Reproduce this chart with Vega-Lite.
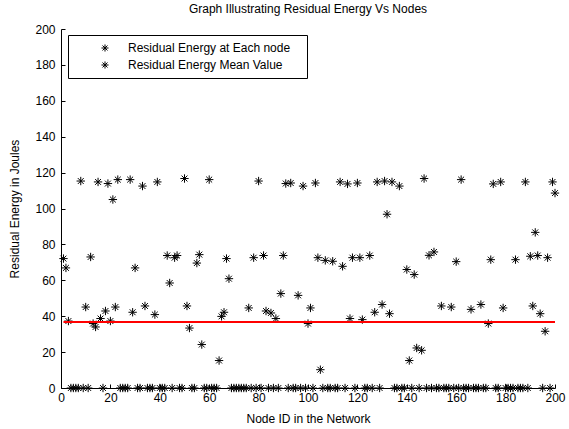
{
  "$schema": "https://vega.github.io/schema/vega-lite/v6.json",
  "autosize": "none",
  "width": 494,
  "height": 359,
  "padding": {"left": 61, "top": 29, "right": 14, "bottom": 41},
  "background": "white",
  "title": {"text": "Graph Illustrating Residual Energy Vs Nodes", "font": "Liberation Sans", "fontSize": 12, "fontWeight": "normal", "color": "black", "offset": 7, "anchor": "middle"},
  "config": {
    "view": {"stroke": null},
    "axis": {"grid": false, "domainColor": "black", "tickColor": "black", "labelColor": "black", "titleColor": "black", "labelFont": "Liberation Sans", "titleFont": "Liberation Sans", "labelFontSize": 12, "titleFontSize": 12, "titleFontWeight": "normal", "tickSize": -4, "labelPadding": 10, "labelOverlap": false, "labelBound": false, "labelFlush": false}
  },
  "datasets": {
    "nodes": [
      {"node":1,"energy":72.1},{"node":2,"energy":66.9},{"node":3,"energy":37.3},{"node":4,"energy":0},{"node":5,"energy":0},{"node":6,"energy":0},{"node":7,"energy":0},{"node":8,"energy":115.3},{"node":9,"energy":0},{"node":10,"energy":45.1},
      {"node":11,"energy":0},{"node":12,"energy":73.0},{"node":13,"energy":35.9},{"node":14,"energy":34.0},{"node":15,"energy":114.8},{"node":16,"energy":38.7},{"node":17,"energy":0},{"node":18,"energy":42.9},{"node":19,"energy":113.9},{"node":20,"energy":37.3},
      {"node":21,"energy":105.0},{"node":22,"energy":45.1},{"node":23,"energy":116.1},{"node":24,"energy":0},{"node":25,"energy":0},{"node":26,"energy":0},{"node":27,"energy":0},{"node":28,"energy":116.1},{"node":29,"energy":42.2},{"node":30,"energy":66.9},
      {"node":31,"energy":0},{"node":32,"energy":0},{"node":33,"energy":112.5},{"node":34,"energy":45.7},{"node":35,"energy":0},{"node":36,"energy":0},{"node":37,"energy":0},{"node":38,"energy":40.9},{"node":39,"energy":114.8},{"node":40,"energy":0},
      {"node":41,"energy":0},{"node":42,"energy":0},{"node":43,"energy":73.8},{"node":44,"energy":58.5},{"node":45,"energy":0},{"node":46,"energy":72.6},{"node":47,"energy":73.8},{"node":48,"energy":0},{"node":49,"energy":0},{"node":50,"energy":116.7},
      {"node":51,"energy":45.7},{"node":52,"energy":33.4},{"node":53,"energy":0},{"node":54,"energy":0},{"node":55,"energy":69.6},{"node":56,"energy":74.3},{"node":57,"energy":24.2},{"node":58,"energy":0},{"node":59,"energy":0},{"node":60,"energy":116.1},
      {"node":61,"energy":0},{"node":62,"energy":0},{"node":63,"energy":0},{"node":64,"energy":15.3},{"node":65,"energy":39.9},{"node":66,"energy":42.2},{"node":67,"energy":72.1},{"node":68,"energy":60.9},{"node":69,"energy":0},{"node":70,"energy":0},
      {"node":71,"energy":0},{"node":72,"energy":0},{"node":73,"energy":0},{"node":74,"energy":0},{"node":75,"energy":0},{"node":76,"energy":44.6},{"node":77,"energy":0},{"node":78,"energy":72.6},{"node":79,"energy":0},{"node":80,"energy":115.3},
      {"node":81,"energy":0},{"node":82,"energy":73.8},{"node":83,"energy":42.9},{"node":84,"energy":0},{"node":85,"energy":41.8},{"node":86,"energy":0},{"node":87,"energy":38.7},{"node":88,"energy":0},{"node":89,"energy":52.6},{"node":90,"energy":73.8},
      {"node":91,"energy":113.9},{"node":92,"energy":0},{"node":93,"energy":114.2},{"node":94,"energy":0},{"node":95,"energy":0},{"node":96,"energy":51.6},{"node":97,"energy":0},{"node":98,"energy":112.5},{"node":99,"energy":0},{"node":100,"energy":35.9},
      {"node":101,"energy":44.6},{"node":102,"energy":0},{"node":103,"energy":114.2},{"node":104,"energy":72.6},{"node":105,"energy":10.2},{"node":106,"energy":0},{"node":107,"energy":71.1},{"node":108,"energy":0},{"node":109,"energy":0},{"node":110,"energy":70.6},
      {"node":111,"energy":0},{"node":112,"energy":0},{"node":113,"energy":114.8},{"node":114,"energy":67.8},{"node":115,"energy":0},{"node":116,"energy":113.7},{"node":117,"energy":38.7},{"node":118,"energy":72.6},{"node":119,"energy":0},{"node":120,"energy":114.2},
      {"node":121,"energy":72.6},{"node":122,"energy":38.1},{"node":123,"energy":0},{"node":124,"energy":0},{"node":125,"energy":73.8},{"node":126,"energy":0},{"node":127,"energy":42.2},{"node":128,"energy":114.8},{"node":129,"energy":0},{"node":130,"energy":46.5},
      {"node":131,"energy":115.3},{"node":132,"energy":96.8},{"node":133,"energy":41.4},{"node":134,"energy":114.8},{"node":135,"energy":0},{"node":136,"energy":0},{"node":137,"energy":112.5},{"node":138,"energy":0},{"node":139,"energy":0},{"node":140,"energy":66.0},
      {"node":141,"energy":15.3},{"node":142,"energy":0},{"node":143,"energy":63.2},{"node":144,"energy":22.3},{"node":145,"energy":0},{"node":146,"energy":21.0},{"node":147,"energy":116.7},{"node":148,"energy":0},{"node":149,"energy":73.9},{"node":150,"energy":0},
      {"node":151,"energy":75.8},{"node":152,"energy":0},{"node":153,"energy":0},{"node":154,"energy":45.7},{"node":155,"energy":0},{"node":156,"energy":0},{"node":157,"energy":0},{"node":158,"energy":45.1},{"node":159,"energy":0},{"node":160,"energy":70.4},
      {"node":161,"energy":0},{"node":162,"energy":116.1},{"node":163,"energy":0},{"node":164,"energy":0},{"node":165,"energy":0},{"node":166,"energy":43.8},{"node":167,"energy":0},{"node":168,"energy":0},{"node":169,"energy":0},{"node":170,"energy":46.5},
      {"node":171,"energy":0},{"node":172,"energy":0},{"node":173,"energy":35.9},{"node":174,"energy":71.5},{"node":175,"energy":113.7},{"node":176,"energy":0},{"node":177,"energy":0},{"node":178,"energy":114.8},{"node":179,"energy":44.6},{"node":180,"energy":0},
      {"node":181,"energy":0},{"node":182,"energy":0},{"node":183,"energy":0},{"node":184,"energy":71.5},{"node":185,"energy":0},{"node":186,"energy":0},{"node":187,"energy":0},{"node":188,"energy":114.8},{"node":189,"energy":0},{"node":190,"energy":73.4},
      {"node":191,"energy":45.7},{"node":192,"energy":86.7},{"node":193,"energy":73.8},{"node":194,"energy":41.4},{"node":195,"energy":0},{"node":196,"energy":31.6},{"node":197,"energy":72.6},{"node":198,"energy":0},{"node":199,"energy":114.8},{"node":200,"energy":108.6}
    ],
    "mean": [{"start": 1, "end": 200, "energy": 36.8}]
  },
  "layer": [
    {
      "data": {"name": "nodes"},
      "mark": {"type": "point", "filled": false, "shape": "M-1,0L1,0M0,-1L0,1M-0.7,-0.7L0.7,0.7M-0.7,0.7L0.7,-0.7", "size": 70, "strokeWidth": 1, "opacity": 1},
      "encoding": {
        "x": {"field": "node", "type": "quantitative", "scale": {"domain": [0, 200], "nice": false}, "axis": {"values": [0,20,40,60,80,100,120,140,160,180,200], "tickCount": 11, "title": "Node ID in the Network", "titlePadding": 10, "labelPadding": 8, "labelOverlap": false}},
        "y": {"field": "energy", "type": "quantitative", "scale": {"domain": [0, 200], "nice": false}, "axis": {"values": [0,20,40,60,80,100,120,140,160,180,200], "tickCount": 11, "title": "Residual Energy in Joules", "titlePadding": 13, "labelOverlap": false}},
        "color": {"datum": "Residual Energy at Each node", "type": "nominal", "scale": {"domain": ["Residual Energy at Each node", "Residual Energy Mean Value"], "range": ["black", "black"]},
          "legend": {"title": null, "orient": "none", "legendX": 7, "legendY": 6, "strokeColor": "black", "fillColor": "white", "padding": 7, "symbolType": "M-1,0L1,0M0,-1L0,1M-0.7,-0.7L0.7,0.7M-0.7,0.7L0.7,-0.7", "symbolSize": 50, "symbolStrokeWidth": 1, "symbolOffset": 24, "labelOffset": 17, "labelFont": "Liberation Sans", "labelFontSize": 12, "labelColor": "black", "rowPadding": 5, "labelLimit": 400, "labelExpr": "datum.label + '\u2800'"}}
      }
    },
    {
      "data": {"name": "mean"},
      "mark": {"type": "rule", "color": "#ff0000", "strokeWidth": 2},
      "encoding": {
        "x": {"field": "start", "type": "quantitative"},
        "x2": {"field": "end"},
        "y": {"field": "energy", "type": "quantitative"}
      }
    }
  ]
}
